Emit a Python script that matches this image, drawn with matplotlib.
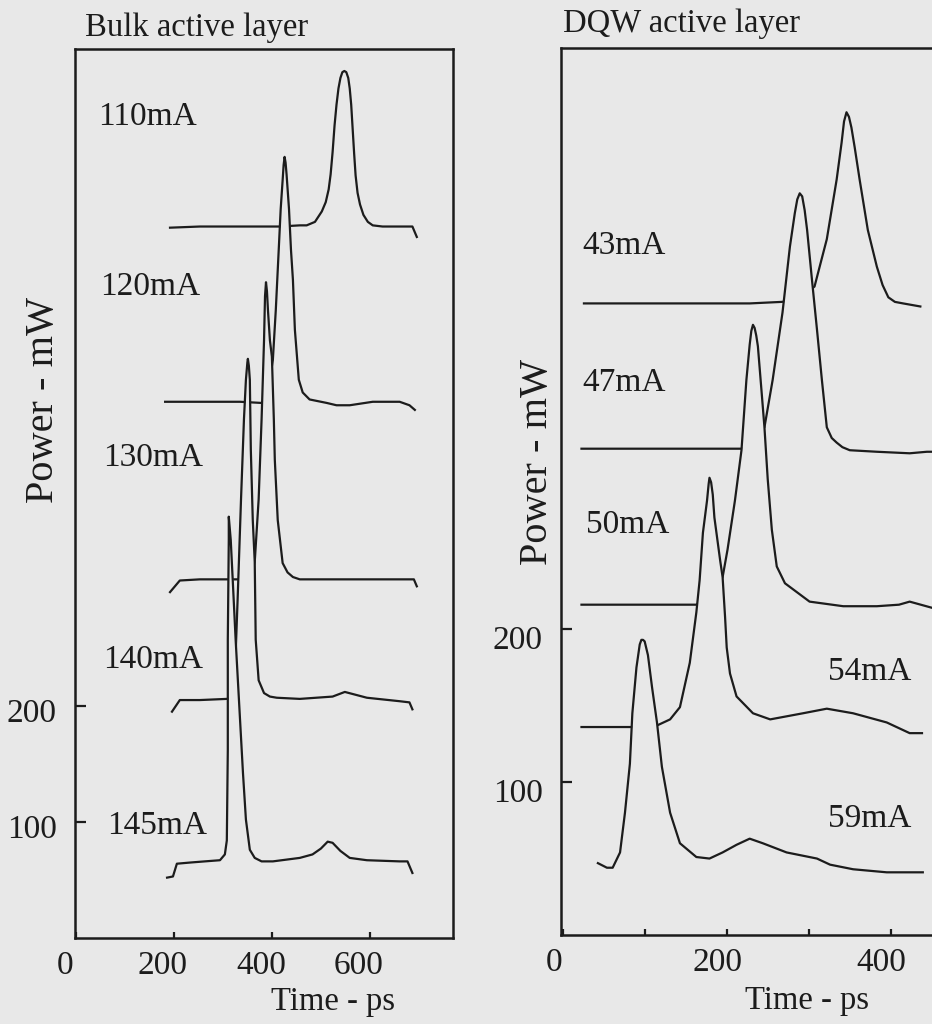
import matplotlib
matplotlib.use('Agg')
import matplotlib.pyplot as plt
import matplotlib.transforms as mtransforms

plt.rcParams['font.family'] = ['Liberation Serif', 'DejaVu Serif']

BG = '#e8e8e8'
INK = '#1c1c1c'

# ---- bulk active layer (time in ps, power in mW incl. stacking offset)
bulk_labels = ['110mA', '120mA', '130mA', '140mA', '145mA']

bulk_110_t = [192, 253, 355, 416, 457, 471, 488, 502, 510, 516, 520, 524, 528, 532, 536,
              540, 544, 548, 552, 556, 559, 562, 565, 568, 571, 575, 580, 587, 596, 606,
              626, 661, 687, 696]
bulk_110_p = [612, 613, 613, 613, 614, 614, 617, 626, 634, 645, 658, 677, 700, 718, 732,
              741, 746, 747, 746, 741, 732, 718, 697, 676, 657, 642, 632, 623, 617, 614,
              613, 613, 613, 604]

bulk_120_t = [182, 253, 335, 379, 388, 396, 402, 408, 414, 418, 422, 424, 426, 428, 430,
              435, 439, 443, 447, 455, 463, 477, 512, 532, 559, 606, 661, 681, 692]
bulk_120_p = [462, 462, 462, 461, 465, 481, 498, 541, 593, 628, 653, 666, 673, 668, 658,
              628, 593, 567, 524, 481, 470, 464, 461, 459, 459, 462, 462, 459, 455]

bulk_130_t = [192, 212, 253, 345, 355, 361, 365, 373, 379, 384, 386, 388, 390, 392, 396,
              400, 404, 406, 412, 422, 432, 443, 457, 559, 661, 690, 696]
bulk_130_p = [298, 308, 309, 309, 313, 317, 324, 378, 447, 515, 553, 565, 557, 541, 515,
              501, 447, 412, 360, 323, 315, 311, 309, 309, 309, 309, 303]

bulk_140_t = [196, 212, 253, 308, 318, 324, 330, 337, 343, 347, 350, 351, 353, 355, 357,
              361, 365, 367, 373, 384, 396, 410, 457, 524, 549, 594, 661, 681, 687]
bulk_140_p = [195, 205, 205, 206, 207, 222, 291, 378, 447, 481, 496, 499, 493, 481, 421,
              360, 324, 257, 222, 211, 208, 207, 206, 208, 212, 207, 204, 203, 197]

bulk_145_t = [186, 198, 206, 233, 263, 294, 304, 308, 310, 310, 312, 312, 316, 320, 326,
              335, 341, 347, 355, 365, 379, 402, 457, 483, 500, 514, 524, 540, 559, 594,
              661, 677, 687]
bulk_145_p = [52, 53, 64, 65, 66, 67, 72, 84, 162, 257, 343, 363, 343, 309, 257,
              188, 142, 102, 76, 69, 66, 66, 69, 72, 77, 83, 82, 75, 69, 67,
              66, 66, 56]

# ---- DQW active layer
dqw_labels = ['43mA', '47mA', '50mA', '54mA', '59mA']

dqw_43_t = [26, 106, 167, 228, 267, 283, 295, 307, 322, 334, 340, 343, 346, 349, 352,
            356, 362, 372, 383, 390, 397, 405, 415, 436]
dqw_43_p = [413, 413, 413, 413, 414, 415, 419, 424, 455, 494, 518, 532, 538, 535, 528,
            515, 494, 461, 437, 425, 417, 414, 413, 411]

dqw_47_t = [23, 106, 167, 218, 234, 246, 256, 268, 277, 283, 286, 289, 292, 295, 298,
            304, 310, 316, 322, 328, 334, 341, 350, 383, 423, 444, 450]
dqw_47_p = [318, 318, 318, 318, 321, 332, 363, 407, 450, 472, 481, 485, 483, 474, 461,
            428, 396, 363, 332, 325, 322, 319, 317, 316, 315, 316, 316]

dqw_50_t = [23, 106, 163, 173, 185, 195, 201, 210, 218, 224, 228, 230, 232, 234, 236,
            238, 243, 246, 250, 255, 261, 271, 281, 301, 342, 383, 410, 423, 450]
dqw_50_p = [216, 216, 216, 219, 224, 234, 252, 284, 317, 363, 386, 395, 399, 397, 392,
            385, 352, 332, 298, 265, 241, 230, 226, 218, 215, 215, 216, 218, 214]

dqw_54_t = [23, 70, 84, 100, 115, 131, 143, 155, 163, 167, 171, 176, 178, 179, 181,
            183, 185, 192, 195, 198, 200, 204, 212, 232, 253, 273, 293, 322, 354, 395,
            423, 438]
dqw_54_p = [136, 136, 136, 136, 137, 141, 149, 178, 211, 232, 263, 284, 295, 299, 296,
            288, 273, 245, 234, 208, 188, 171, 156, 145, 141, 143, 145, 148, 145, 139,
            132, 132]

dqw_59_t = [43, 54, 61, 70, 76, 82, 85, 90, 94, 96, 98, 100, 104, 109, 115,
            121, 131, 143, 163, 179, 195, 212, 228, 244, 273, 310, 326, 354, 395, 439]
dqw_59_p = [47, 44, 44, 54, 80, 112, 145, 175, 190, 193, 193, 192, 183, 162, 139,
            110, 80, 60, 51, 50, 54, 59, 63, 60, 54, 50, 46, 43, 41, 41]

# label anchor positions (left edge, vertical centre) in data units
bulk_label_t = [45, 49, 55, 55, 63]
bulk_label_p = [708, 561, 414, 240, 97]
dqw_label_t = [24, 24, 29, 323, 323]
dqw_label_p = [451, 361, 268, 172, 76]


def draw_traces(ax, traces):
    # back (top) trace first; each one hides what lies behind its peak
    for k, (t, p) in enumerate(traces):
        ax.fill_between(t, p, min(p), color=BG, lw=0, zorder=2 + 2 * k)
        ax.plot(t, p, color=INK, lw=1.6, zorder=3 + 2 * k)


def style_axes(ax, fig, xticks, xlabels, dx, dy):
    ax.set_facecolor(BG)
    for s in ax.spines.values():
        s.set_linewidth(1.8)
        s.set_color(INK)
        s.set_zorder(30)
    ax.set_xticks(xticks)
    ax.set_xticklabels(xlabels)
    ax.set_yticks([100, 200])
    ax.tick_params(axis='x', direction='in', length=4, width=1.6, pad=9,
                   labelsize=24, colors=INK)
    ax.tick_params(axis='y', direction='in', length=8, width=1.6, pad=13,
                   labelsize=24, colors=INK)
    ox = mtransforms.ScaledTranslation(dx, 0, fig.dpi_scale_trans)
    for lab in ax.get_xticklabels():
        lab.set_transform(lab.get_transform() + ox)
    oy = mtransforms.ScaledTranslation(0, dy, fig.dpi_scale_trans)
    for lab in ax.get_yticklabels():
        lab.set_transform(lab.get_transform() + oy)


fig = plt.figure(figsize=(9.32, 10.24), dpi=100)
fig.patch.set_facecolor(BG)

# left panel
ax1 = fig.add_axes([0.0805, 0.0840, 0.4056, 0.8682])
draw_traces(ax1, [(bulk_110_t, bulk_110_p), (bulk_120_t, bulk_120_p),
                  (bulk_130_t, bulk_130_p), (bulk_140_t, bulk_140_p),
                  (bulk_145_t, bulk_145_p)])
ax1.set_xlim(-2, 770)
ax1.set_ylim(0, 766)
style_axes(ax1, fig, [0, 200, 400, 600], ['0', '200', '400', '600'], -0.11, -0.04)
for lab, t, p in zip(bulk_labels, bulk_label_t, bulk_label_p):
    ax1.text(t, p, lab, fontsize=24, ha='left', va='center', color=INK, zorder=40)
ax1.text(0.026, 1.024, 'Bulk active layer', transform=ax1.transAxes, fontsize=23.5,
         ha='left', va='center', color=INK)
ax1.set_xlabel('Time - ps', fontsize=23.5, color=INK)
ax1.xaxis.set_label_coords(0.683, -0.055)
ax1.set_ylabel('Power - mW', fontsize=29, color=INK)
ax1.yaxis.set_label_coords(-0.034, 0.605)

# right panel (runs off the right edge of the page)
ax2 = fig.add_axes([0.6019, 0.0869, 0.4120, 0.8662])
draw_traces(ax2, [(dqw_43_t, dqw_43_p), (dqw_47_t, dqw_47_p),
                  (dqw_50_t, dqw_50_p), (dqw_54_t, dqw_54_p),
                  (dqw_59_t, dqw_59_p)])
ax2.set_xlim(-2, 466)
ax2.set_ylim(0, 580)
style_axes(ax2, fig, [0, 100, 200, 300, 400], ['0', '', '200', '', '400'], -0.09, -0.08)
for lab, t, p in zip(dqw_labels, dqw_label_t, dqw_label_p):
    ax2.text(t, p, lab, fontsize=24, ha='left', va='center', color=INK, zorder=40)
ax2.text(0.005, 1.027, 'DQW active layer', transform=ax2.transAxes, fontsize=23.5,
         ha='left', va='center', color=INK)
ax2.set_xlabel('Time - ps', fontsize=23.5, color=INK)
ax2.xaxis.set_label_coords(0.641, -0.057)
ax2.set_ylabel('Power - mW', fontsize=29, color=INK)
ax2.yaxis.set_label_coords(-0.013, 0.533)

fig.savefig('out.png', dpi=100, facecolor=BG)
